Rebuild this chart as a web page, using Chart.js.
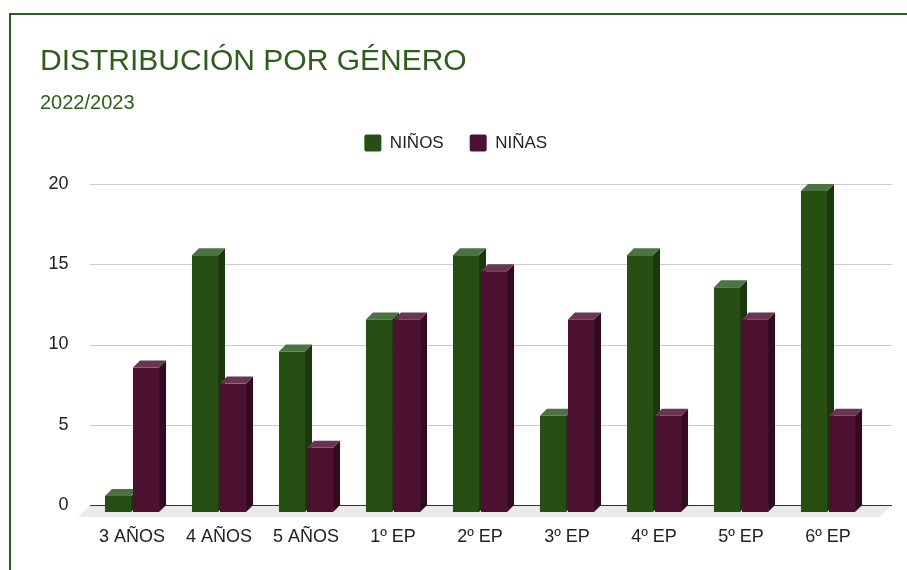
<!DOCTYPE html>
<html>
<head>
<meta charset="utf-8">
<script src="https://cdn.jsdelivr.net/npm/chart.js@4"></script>
<style>
  html, body { margin: 0; padding: 0; background: #fff; }
  #frame { position: absolute; left: 9px; top: 13px; width: 1000px; height: 700px;
           border-top: 2px solid #2f5e1c; border-left: 2px solid #2f5e1c; }
  #chart { position: absolute; left: 0; top: 0; }
</style>
</head>
<body>
<div id="frame"></div>
<canvas id="chart" width="907" height="570"></canvas>
<script>
const categories = ['3 AÑOS', '4 AÑOS', '5 AÑOS', '1º EP', '2º EP', '3º EP', '4º EP', '5º EP', '6º EP'];
const ninos = [1, 16, 10, 12, 16, 6, 16, 14, 20];
const ninas = [9, 8, 4, 12, 15, 12, 6, 12, 6];
const yTicks = [0, 5, 10, 15, 20];

Chart.defaults.font.family = "'Liberation Sans', Arial, sans-serif";

const DEPTH = 7;

// 3D look: front face, right side and top drawn by hand from the bar elements
const bars3d = {
    id: 'bars3d',
    beforeDatasetsDraw(chart) {
        const { ctx, chartArea, scales: { y } } = chart;
        const gl = chartArea.left + 1.5, gr = chartArea.right + 20.5;
        const y0 = y.getPixelForValue(0);
        ctx.save();

        // floor
        ctx.fillStyle = '#ebebeb';
        ctx.beginPath();
        ctx.moveTo(gl, y0);
        ctx.lineTo(gr, y0);
        ctx.lineTo(gr - 12, y0 + 12);
        ctx.lineTo(gl - 12, y0 + 12);
        ctx.closePath();
        ctx.fill();

        // grid lines
        ctx.lineWidth = 1;
        y.ticks.forEach(t => {
            const py = Math.round(y.getPixelForValue(t.value)) + 0.5;
            ctx.strokeStyle = t.value === 0 ? '#333333' : '#cccccc';
            ctx.beginPath();
            ctx.moveTo(gl, py);
            ctx.lineTo(gr, py);
            ctx.stroke();
        });

        const metas = chart.data.datasets.map((d, i) => chart.getDatasetMeta(i));
        for (let j = 0; j < categories.length; j++) {
            metas.forEach((m, i) => {
                const ds = chart.data.datasets[i];
                const el = m.data[j];
                const x0 = el.x - el.width / 2, x1 = el.x + el.width / 2;
                const yt = el.y + DEPTH, yb = el.base + DEPTH;
                // front
                ctx.fillStyle = ds.backgroundColor;
                ctx.fillRect(x0, yt, x1 - x0, yb - yt);
                // side
                ctx.fillStyle = ds.sideColor;
                ctx.beginPath();
                ctx.moveTo(x1, yt);
                ctx.lineTo(x1 + DEPTH, yt - DEPTH);
                ctx.lineTo(x1 + DEPTH, yb - DEPTH);
                ctx.lineTo(x1, yb);
                ctx.closePath();
                ctx.fill();
                // top
                ctx.fillStyle = ds.topColor;
                ctx.beginPath();
                ctx.moveTo(x0, yt);
                ctx.lineTo(x0 + DEPTH, yt - DEPTH);
                ctx.lineTo(x1 + DEPTH, yt - DEPTH);
                ctx.lineTo(x1, yt);
                ctx.closePath();
                ctx.fill();
            });
        }
        ctx.restore();
        return false;
    }
};

const ctx = document.getElementById('chart').getContext('2d');
new Chart(ctx, {
    type: 'bar',
    data: {
        labels: categories,
        datasets: [{
            label: 'NIÑOS',
            data: ninos,
            backgroundColor: '#274e13',
            sideColor: '#1a380b',
            topColor: '#4a7540',
            borderWidth: 0,
            xAxisID: 'x',
            yAxisID: 'y',
            categoryPercentage: 0.644,
            barPercentage: 0.93
        }, {
            label: 'NIÑAS',
            data: ninas,
            backgroundColor: '#4c1130',
            sideColor: '#330a20',
            topColor: '#6b3552',
            borderWidth: 0,
            xAxisID: 'x',
            yAxisID: 'y',
            categoryPercentage: 0.644,
            barPercentage: 0.93
        }]
    },
    options: {
        responsive: false,
        animation: false,
        layout: { padding: { left: 40, right: 35.5, top: 0, bottom: 0 } },
        plugins: {
            title: {
                display: true,
                text: 'DISTRIBUCIÓN POR GÉNERO',
                align: 'start',
                color: '#2f5e1c',
                font: { size: 30, weight: 'normal', lineHeight: 1.2 },
                padding: { top: 44, bottom: 17.5 }
            },
            subtitle: {
                display: true,
                text: '2022/2023',
                align: 'start',
                color: '#2f5e1c',
                font: { size: 20, weight: 'normal', lineHeight: 0.55 },
                padding: { top: 0, bottom: 0 }
            },
            legend: {
                position: 'top',
                align: 'center',
                labels: {
                    boxWidth: 17,
                    boxHeight: 17,
                    padding: 26,
                    useBorderRadius: true,
                    borderRadius: 2,
                    color: '#222222',
                    font: { size: 17 }
                }
            },
            tooltip: { enabled: false }
        },
        scales: {
            x: {
                grid: { display: false, drawTicks: false },
                border: { display: false },
                ticks: { color: '#222222', font: { size: 18 }, padding: 21.5, maxRotation: 0 },
                afterFit: s => { s.height = 65; }
            },
            y: {
                min: 0,
                max: 20,
                afterBuildTicks: s => { s.ticks = yTicks.map(v => ({ value: v })); },
                grid: { display: false, drawTicks: false },
                border: { display: false },
                ticks: { color: '#222222', font: { size: 18 }, padding: 20 },
                afterFit: s => { s.width = 48.5; }
            },
            spacer: {
                type: 'linear',
                position: 'top',
                display: true,
                grid: { display: false, drawTicks: false },
                border: { display: false },
                ticks: { display: false },
                afterFit: s => { s.height = 22.5; }
            }
        }
    },
    plugins: [bars3d]
});
</script>
</body>
</html>
